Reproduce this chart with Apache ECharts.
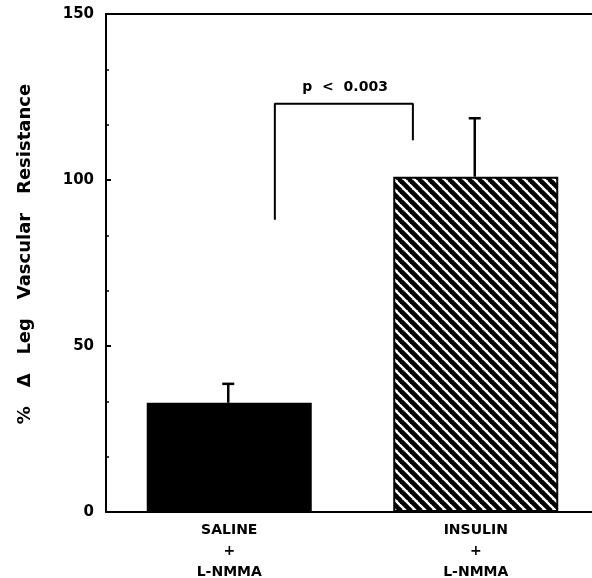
<!DOCTYPE html>
<html>
<head>
<meta charset="utf-8">
<script src="https://cdn.jsdelivr.net/npm/echarts@6/dist/echarts.min.js"></script>
<style>
  html, body { margin: 0; padding: 0; background: #fff; }
  #chart { width: 592px; height: 578px; }
</style>
</head>
<body>
<div id="chart"></div>
<script>
  // values
  var groups = ['SALINE\n+\nL-NMMA', 'INSULIN\n+\nL-NMMA'];
  var groupPos = [0.5, 1.5];
  var means = [32.9, 101.0];
  var errors = [5.7, 17.6];
  var yTicks = [0, 50, 100, 150];
  // significance bracket, x in band units
  var bracketX = [0.685, 0.685, 1.245, 1.245];
  var bracketY = [88, 123, 123, 112];
  var pText = 'p  <  0.003';
  var pPos = [0.97, 128];

  // diagonal hatch tile
  function hatch() {
    var c = document.createElement('canvas');
    c.width = 10; c.height = 10;
    var g = c.getContext('2d');
    g.fillStyle = '#fff';
    g.fillRect(0, 0, 10, 10);
    g.strokeStyle = '#000';
    g.lineWidth = 4.6;
    [[-1, -1, 11, 11], [-11, -1, 1, 11], [9, -1, 21, 11]].forEach(function (l) {
      g.beginPath(); g.moveTo(l[0], l[1]); g.lineTo(l[2], l[3]); g.stroke();
    });
    return c;
  }

  var font = 'DejaVu Sans';
  var chart = echarts.init(document.getElementById('chart'));

  var barData = means.map(function (v, i) {
    return {
      value: [groupPos[i], v],
      itemStyle: i === 0
        ? { color: '#000' }
        : { color: { image: hatch(), repeat: 'repeat' }, borderColor: '#000', borderWidth: 2 }
    };
  });

  chart.setOption({
    animation: false,
    grid: { left: 106, top: 14, right: 0, bottom: 66, outerBoundsMode: 'none' },
    xAxis: [
      {
        type: 'value', min: 0, max: 486 / 246.5,
        axisLine: { show: true, lineStyle: { color: '#000', width: 2 } },
        axisTick: { show: false },
        splitLine: { show: false },
        axisLabel: {
          color: '#000', fontFamily: font, fontWeight: 'bold', fontSize: 14,
          lineHeight: 21, margin: 8,
          customValues: groupPos,
          formatter: function (v) { return groups[Math.round(v - 0.5)]; }
        }
      },
      {
        type: 'value', min: 0, max: 486 / 246.5, position: 'top',
        axisLine: { show: true, lineStyle: { color: '#000', width: 2 } },
        axisTick: { show: false }, axisLabel: { show: false }, splitLine: { show: false }
      }
    ],
    yAxis: {
      type: 'value', min: 0, max: 150, interval: 50,
      axisLine: { show: true, lineStyle: { color: '#000', width: 2 } },
      axisTick: { show: true, inside: true, length: 5, lineStyle: { color: '#000', width: 2 } },
      minorTick: { show: true, splitNumber: 3, length: 3, lineStyle: { color: '#000', width: 1.5 } },
      splitLine: { show: false },
      axisLabel: {
        color: '#000', fontFamily: font, fontWeight: 'bold', fontSize: 15, margin: 12,
        customValues: yTicks
      }
    },
    graphic: [{
      type: 'text',
      x: 25, y: 254,
      rotation: Math.PI / 2,
      style: {
        text: '%   Δ   Leg   Vascular   Resistance',
        fontFamily: font, fontWeight: 'bold', fontSize: 18,
        fill: '#000', align: 'center', verticalAlign: 'middle'
      }
    }],
    series: [
      {
        type: 'bar',
        data: barData,
        barWidth: 165
      },
      {
        type: 'custom',
        data: means.map(function (m, i) { return [groupPos[i], m, m + errors[i]]; }),
        renderItem: function (params, api) {
          var lo = api.coord([api.value(0), api.value(1)]);
          var hi = api.coord([api.value(0), api.value(2)]);
          var st = { stroke: '#000', lineWidth: 2.5 };
          return {
            type: 'group',
            children: [
              { type: 'line', shape: { x1: lo[0] - 1, y1: lo[1], x2: hi[0] - 1, y2: hi[1] }, style: st },
              { type: 'line', shape: { x1: hi[0] - 7, y1: hi[1], x2: hi[0] + 5, y2: hi[1] }, style: st }
            ]
          };
        },
        z: 3
      },
      {
        type: 'line',
        data: bracketX.map(function (x, i) { return [x, bracketY[i]]; }),
        symbol: 'none',
        lineStyle: { color: '#000', width: 2 }
      },
      {
        type: 'scatter',
        data: [pPos],
        symbolSize: 0,
        itemStyle: { opacity: 1 },
        label: {
          show: true, position: 'inside', formatter: pText,
          color: '#000', textBorderWidth: 0,
          fontFamily: font, fontWeight: 'bold', fontSize: 14
        }
      }
    ]
  });
</script>
</body>
</html>
